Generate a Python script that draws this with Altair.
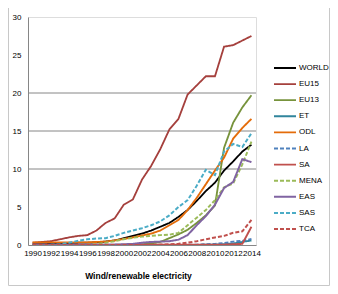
import altair as alt
import pandas as pd

years = list(range(1990, 2015))
series = ["WORLD", "EU15", "EU13", "ET", "ODL", "LA", "SA", "MENA", "EAS", "SAS", "TCA"]

WORLD = [0.1, 0.1, 0.15, 0.2, 0.25, 0.3, 0.3, 0.35, 0.45, 0.6, 0.9, 1.2, 1.5, 1.9, 2.4, 2.9, 3.7, 4.6, 5.8, 7.1, 8.2, 9.8, 11.0, 12.3, 13.2]
EU15 = [0.3, 0.4, 0.5, 0.75, 1.0, 1.2, 1.3, 1.9, 2.9, 3.5, 5.3, 6.0, 8.6, 10.4, 12.6, 15.2, 16.6, 19.8, 21.0, 22.2, 22.2, 26.1, 26.3, 26.9, 27.5]
EU13 = [0, 0, 0, 0, 0, 0, 0, 0, 0, 0, 0.02, 0.05, 0.1, 0.2, 0.4, 0.9, 1.4, 2.0, 2.9, 3.9, 5.2, 12.8, 16.1, 18.1, 19.7]
ET = [0, 0, 0, 0, 0, 0, 0, 0, 0, 0, 0, 0, 0, 0, 0, 0, 0, 0, 0.02, 0.03, 0.05, 0.1, 0.2, 0.4, 0.6]
ODL = [0.35, 0.35, 0.35, 0.35, 0.35, 0.35, 0.35, 0.4, 0.45, 0.6, 0.8, 1.0, 1.25, 1.5, 1.9, 2.6, 3.3, 4.6, 6.2, 8.0, 9.8, 11.5, 14.0, 15.4, 16.6]
LA = [0, 0, 0, 0, 0, 0, 0, 0, 0, 0, 0, 0, 0, 0, 0, 0, 0.02, 0.05, 0.05, 0.1, 0.15, 0.25, 0.45, 0.55, 0.8]
SA = [0.05, 0.05, 0.05, 0.05, 0.05, 0.05, 0.05, 0.05, 0.05, 0.05, 0.05, 0.05, 0.05, 0.05, 0.05, 0.05, 0.05, 0.05, 0.05, 0.05, 0.05, 0.05, 0.1, 0.15, 2.4]
MENA = [0, 0, 0, 0, 0, 0, 0.05, 0.15, 0.3, 0.5, 0.75, 0.95, 1.1, 1.2, 1.3, 1.35, 1.6, 2.6, 3.6, 4.6, 5.9, 7.6, 8.1, 10.6, 13.6]
EAS = [0.05, 0.05, 0.05, 0.05, 0.05, 0.05, 0.05, 0.05, 0.05, 0.05, 0.1, 0.15, 0.3, 0.4, 0.45, 0.5, 0.7, 1.3, 2.6, 3.8, 5.3, 7.5, 8.3, 11.3, 10.9]
SAS = [0, 0, 0.02, 0.1, 0.3, 0.55, 0.75, 0.85, 0.9, 1.2, 1.6, 1.9, 2.2, 2.6, 3.1, 3.9, 5.0, 5.9, 7.8, 9.9, 9.2, 12.3, 13.3, 12.9, 14.7]
TCA = [0, 0, 0, 0, 0, 0, 0, 0, 0, 0, 0, 0, 0, 0, 0.05, 0.1, 0.15, 0.3, 0.5, 0.75, 1.0, 1.2, 1.6, 1.8, 3.3]

values = [WORLD, EU15, EU13, ET, ODL, LA, SA, MENA, EAS, SAS, TCA]
colors = ["#000000", "#A5403D", "#77933C", "#31859C", "#E46C0A", "#4F81BD", "#C0504D", "#9BBB59", "#8064A2", "#4BACC6", "#C0504D"]
dashes = [[1, 0], [1, 0], [1, 0], [1, 0], [1, 0], [4, 2], [1, 0], [4, 2], [1, 0], [4, 2], [4, 2]]
widths = [1.8, 2, 2, 2, 2, 1, 1, 2, 2, 2, 2]

y_ticks = [0, 5, 10, 15, 20, 25, 30]
x_ticks = list(range(1990, 2015, 2))
grid_values = [10, 15, 20]

rows = []
for name, vals in zip(series, values):
    assert len(vals) == len(years)
    for yr, v in zip(years, vals):
        rows.append({"year": yr, "value": v, "series": name})
df = pd.DataFrame(rows)

FONT = "Liberation Sans, Arial, sans-serif"

x_scale = alt.Scale(domain=[1989.5, 2014.5], nice=False, zero=False)
y_scale = alt.Scale(domain=[0, 30], nice=False)

y_axis = alt.Axis(
    values=y_ticks, title=None, labelFont=FONT, labelFontSize=8,
    labelColor="#000000", labelPadding=7, ticks=False, grid=False,
    domainColor="#868686",
)

grid = alt.Chart(pd.DataFrame({"g": grid_values})).mark_rule(
    color="#868686", strokeWidth=1
).encode(y=alt.Y("g:Q", scale=y_scale, axis=y_axis, title=None))

legend = alt.Legend(
    title=None, orient="none", legendX=245, legendY=44,
    symbolType="stroke", symbolSize=484, clipHeight=14, rowPadding=2.1,
    labelFont=FONT, labelFontSize=8, labelColor="#000000", labelOffset=2,
    padding=0,
)

lines = alt.Chart(df).mark_line(clip=True).encode(
    x=alt.X("year:Q", scale=x_scale, axis=alt.Axis(
        values=x_ticks, format="d", title="Wind/renewable electricity",
        labelFont=FONT, labelFontSize=8, labelColor="#000000", labelPadding=4,
        labelOverlap=False, labelFlush=False, ticks=False, grid=False,
        domainColor="#868686", titleFont=FONT, titleFontSize=8.5,
        titleFontWeight="bold", titleColor="#000000", titlePadding=14, titleX=110,
    )),
    y=alt.Y("value:Q", scale=y_scale, axis=y_axis, title=None),
    color=alt.Color("series:N", scale=alt.Scale(domain=series, range=colors), legend=legend),
    strokeDash=alt.StrokeDash("series:N", scale=alt.Scale(domain=series, range=dashes), legend=legend),
    strokeWidth=alt.StrokeWidth("series:N", scale=alt.Scale(domain=series, range=widths), legend=legend),
)

border = alt.Chart(pd.DataFrame({"a": [0]})).mark_rect(
    fill=None, stroke="#c8c8c8", strokeWidth=1
).encode(
    x=alt.value(-19.5), x2=alt.value(301.5), y=alt.value(-9.5), y2=alt.value(268.5)
)

chart = alt.layer(border, grid, lines).properties(
    width=228, height=228,
    autosize=alt.AutoSizeParams(type="none"),
    padding={"left": 20, "top": 9, "right": 74, "bottom": 41},
).configure_view(stroke=None).configure(background="#ffffff")

chart.save("out.html", embed_options={"renderer": "svg", "actions": False})
